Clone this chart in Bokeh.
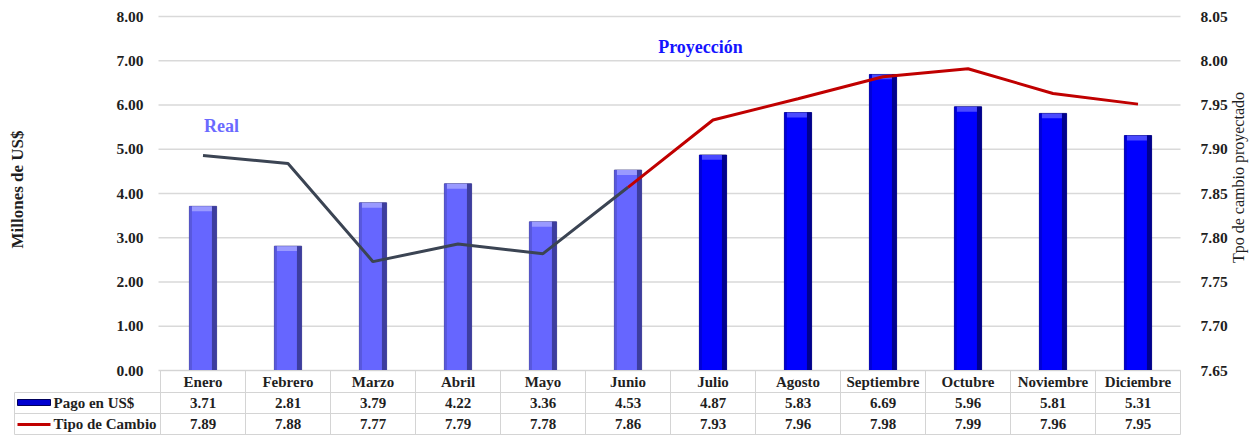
from math import pi
from bokeh.plotting import figure
from bokeh.models import Range1d, LinearAxis, FixedTicker, ColumnDataSource, PrintfTickFormatter
from bokeh.core.properties import value
from bokeh.embed import file_html
from bokeh.resources import INLINE

# ---------------- data ----------------
months = ["Enero", "Febrero", "Marzo", "Abril", "Mayo", "Junio", "Julio",
          "Agosto", "Septiembre", "Octubre", "Noviembre", "Diciembre"]
pago = [3.71, 2.81, 3.79, 4.22, 3.36, 4.53, 4.87, 5.83, 6.69, 5.96, 5.81, 5.31]
tipo_cambio = [7.893, 7.884, 7.773, 7.793, 7.782, 7.857, 7.933, 7.957, 7.982, 7.991, 7.963, 7.951]
n_real = 6  # Enero..Junio real, Julio..Diciembre projected
left_ticks = [0, 1, 2, 3, 4, 5, 6, 7, 8]
right_ticks = [7.65, 7.70, 7.75, 7.80, 7.85, 7.90, 7.95, 8.00, 8.05]
row_labels = ["Pago en US$", "Tipo de Cambio"]

FONT = "Liberation Serif"
TXT = "#1f1f1f"
W, H = 1251, 435

# layout helpers: screen px -> data units (plot area x 160..1180, y 16..370)
def dx(px):
    return (px - 160) / 85.0

def dy(py):
    return (370 - py) / 44.25

def dtc(py):
    return 7.65 + (370 - py) / 354.0 * 0.40

p = figure(width=W, height=H, x_range=Range1d(dx(0), dx(W)), y_range=Range1d(dy(H), dy(0)),
           output_backend="svg", toolbar_location=None,
           min_border_left=0, min_border_right=0, min_border_top=0, min_border_bottom=0)
p.outline_line_color = None
p.background_fill_color = "white"
p.border_fill_color = "white"
p.xaxis.visible = False
p.xgrid.visible = False
p.ygrid.visible = False

def style_axis(ax, standoff):
    ax.axis_line_color = None
    ax.major_tick_line_color = None
    ax.minor_tick_line_color = None
    ax.major_label_standoff = standoff
    ax.major_label_text_font = FONT
    ax.major_label_text_font_style = "bold"
    ax.major_label_text_font_size = "15.5px"
    ax.major_label_text_color = TXT
    ax.formatter = PrintfTickFormatter(format="%.2f")

ya = p.yaxis[0]
ya.ticker = FixedTicker(ticks=left_ticks)
ya.fixed_location = 0
style_axis(ya, 11)

p.extra_y_ranges = {"tc": Range1d(dtc(H), dtc(0))}
ra = LinearAxis(y_range_name="tc", ticker=FixedTicker(ticks=right_ticks), fixed_location=12)
style_axis(ra, 14)
p.add_layout(ra, "right")

# grid lines at the left-axis ticks
p.segment(x0=dx(158), x1=12, y0=left_ticks, y1=left_ticks, line_color="#d9d9d9", line_width=1.5)

# ---------------- bars (with a bevel look) ----------------
xc = [i + 0.5 for i in range(len(months))]
is_real = [i < n_real for i in range(len(months))]
hw = 0.16
src = ColumnDataSource(dict(
    x=xc, top=pago,
    l=[x - hw for x in xc], r=[x + hw for x in xc],
    rs=[x + hw - 0.055 for x in xc], ls=[x - hw + 0.03 for x in xc],
    capb=[v - 0.11 for v in pago],
    base=["#6666ff" if r else "#0000ff" for r in is_real],
    edge=["#33337a" if r else "#00005c" for r in is_real],
    dark=["#3d3d9e" if r else "#00008f" for r in is_real],
    lside=["#5858dd" if r else "#0000d6" for r in is_real],
    cap=["#9a9aff" if r else "#4a4aff" for r in is_real],
))
p.quad(left="l", right="r", top="top", bottom=0, source=src,
       fill_color="base", line_color="edge", line_width=0.8)
p.quad(left="rs", right="r", top="top", bottom=0, source=src, fill_color="dark", line_color=None)
p.quad(left="l", right="ls", top="top", bottom=0, source=src, fill_color="lside", line_color=None)
p.quad(left="ls", right="rs", top="top", bottom="capb", source=src, fill_color="cap", line_color=None)

# ---------------- exchange-rate lines ----------------
p.line(xc[:n_real], tipo_cambio[:n_real], y_range_name="tc", line_color="#3b4453", line_width=3)
p.line(xc[n_real - 1:], tipo_cambio[n_real - 1:], y_range_name="tc", line_color="#c00000", line_width=3)

# ---------------- texts ----------------
p.text(x=[dx(221)], y=[dy(125)], text=["Real"], text_align="center", text_baseline="middle",
       text_font=value(FONT), text_font_style="bold", text_font_size="18px", text_color="#6a6aff")
p.text(x=[dx(700)], y=[dy(46)], text=["Proyección"], text_align="center", text_baseline="middle",
       text_font=value(FONT), text_font_style="bold", text_font_size="18px", text_color="#1414ff")
p.text(x=[dx(17)], y=[dy(189)], text=["Millones de US$"], angle=pi / 2, text_align="center",
       text_baseline="middle", text_font=value(FONT), text_font_style="bold",
       text_font_size="17px", text_color=TXT)
p.text(x=[dx(1238)], y=[dy(177)], text=["Tpo de cambio proyectado"], angle=pi / 2,
       text_align="center", text_baseline="middle", text_font=value(FONT),
       text_font_size="16px", text_color=TXT)

# ---------------- data table ----------------
GRIDC = "#d4d4d4"
row_y = [dy(370), dy(392), dy(413), dy(434)]
hx0 = [0, dx(14), dx(14), dx(14)]
p.segment(x0=hx0, x1=[12] * 4, y0=row_y, y1=row_y, line_color=GRIDC, line_width=1)
cols = list(range(len(months) + 1))
p.segment(x0=cols, x1=cols, y0=[row_y[0]] * len(cols), y1=[row_y[3]] * len(cols),
          line_color=GRIDC, line_width=1)
p.segment(x0=[dx(14)], x1=[dx(14)], y0=[row_y[1]], y1=[row_y[3]], line_color=GRIDC, line_width=1)

# legend swatches
p.quad(left=[dx(17)], right=[dx(50)], top=[dy(399)], bottom=[dy(405)],
       fill_color="#0000d0", line_color="#00005c", line_width=1)
p.segment(x0=[dx(17)], x1=[dx(50)], y0=[dy(424)], y1=[dy(424)], line_color="#c00000", line_width=3)

mid = [(row_y[r] + row_y[r + 1]) / 2 for r in range(3)]
n = len(months)
tsrc = ColumnDataSource(dict(
    x=xc, ym=[mid[0]] * n, yp=[mid[1]] * n, yt=[mid[2]] * n,
    m=months, pv=[f"{v:.2f}" for v in pago], tv=[f"{v:.2f}" for v in tipo_cambio],
))
for ycol, tcol in (("ym", "m"), ("yp", "pv"), ("yt", "tv")):
    p.text(x="x", y=ycol, text=tcol, source=tsrc, text_align="center", text_baseline="middle",
           text_font=value(FONT), text_font_style="bold", text_font_size="15px", text_color=TXT)

p.text(x=[dx(53)] * 2, y=[mid[1], mid[2]], text=row_labels, text_align="left",
       text_baseline="middle", text_font=value(FONT), text_font_style="bold",
       text_font_size="15px", text_color=TXT)

open("out.html", "w").write(file_html(p, INLINE))
